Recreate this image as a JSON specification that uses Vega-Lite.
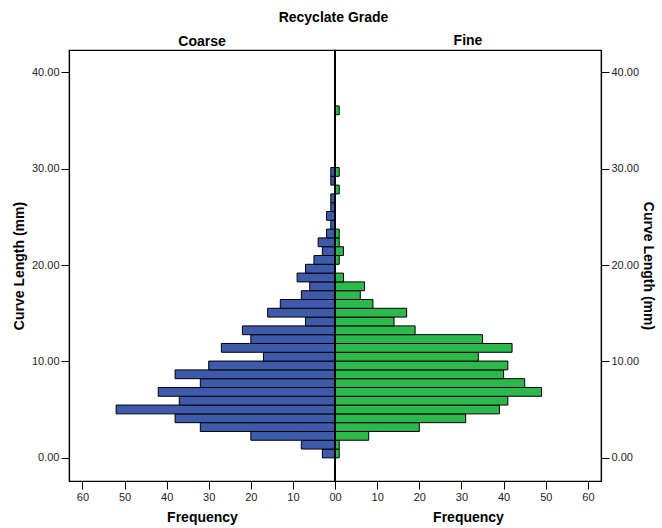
{
  "$schema": "https://vega.github.io/schema/vega-lite/v6.json",
  "padding": {"left": 11, "top": 11, "right": 5, "bottom": 5},
  "title": {
    "text": "Recyclate Grade",
    "fontSize": 14,
    "fontWeight": "bold",
    "font": "Liberation Sans",
    "color": "#000",
    "anchor": "middle",
    "offset": 8
  },
  "datasets": {
    "coarse": [
      {"lo": 0, "hi": 0.9125, "count": 3},
      {"lo": 0.9125, "hi": 1.825, "count": 8},
      {"lo": 1.825, "hi": 2.7375, "count": 20},
      {"lo": 2.7375, "hi": 3.65, "count": 32},
      {"lo": 3.65, "hi": 4.5625, "count": 38},
      {"lo": 4.5625, "hi": 5.475, "count": 52},
      {"lo": 5.475, "hi": 6.3875, "count": 37},
      {"lo": 6.3875, "hi": 7.3, "count": 42},
      {"lo": 7.3, "hi": 8.2125, "count": 32},
      {"lo": 8.2125, "hi": 9.125, "count": 38},
      {"lo": 9.125, "hi": 10.0375, "count": 30},
      {"lo": 10.0375, "hi": 10.95, "count": 17},
      {"lo": 10.95, "hi": 11.8625, "count": 27},
      {"lo": 11.8625, "hi": 12.775, "count": 20},
      {"lo": 12.775, "hi": 13.6875, "count": 22},
      {"lo": 13.6875, "hi": 14.6, "count": 7},
      {"lo": 14.6, "hi": 15.5125, "count": 16},
      {"lo": 15.5125, "hi": 16.425, "count": 13},
      {"lo": 16.425, "hi": 17.3375, "count": 8},
      {"lo": 17.3375, "hi": 18.25, "count": 6},
      {"lo": 18.25, "hi": 19.1625, "count": 9},
      {"lo": 19.1625, "hi": 20.075, "count": 7},
      {"lo": 20.075, "hi": 20.9875, "count": 5},
      {"lo": 20.9875, "hi": 21.9, "count": 3},
      {"lo": 21.9, "hi": 22.8125, "count": 4},
      {"lo": 22.8125, "hi": 23.725, "count": 2},
      {"lo": 23.725, "hi": 24.6375, "count": 1},
      {"lo": 24.6375, "hi": 25.55, "count": 2},
      {"lo": 25.55, "hi": 26.4625, "count": 1},
      {"lo": 26.4625, "hi": 27.375, "count": 1},
      {"lo": 28.2875, "hi": 29.2, "count": 1},
      {"lo": 29.2, "hi": 30.1125, "count": 1}
    ],
    "fine": [
      {"lo": 0, "hi": 0.9125, "count": 1},
      {"lo": 0.9125, "hi": 1.825, "count": 1},
      {"lo": 1.825, "hi": 2.7375, "count": 8},
      {"lo": 2.7375, "hi": 3.65, "count": 20},
      {"lo": 3.65, "hi": 4.5625, "count": 31},
      {"lo": 4.5625, "hi": 5.475, "count": 39},
      {"lo": 5.475, "hi": 6.3875, "count": 41},
      {"lo": 6.3875, "hi": 7.3, "count": 49},
      {"lo": 7.3, "hi": 8.2125, "count": 45},
      {"lo": 8.2125, "hi": 9.125, "count": 40},
      {"lo": 9.125, "hi": 10.0375, "count": 41},
      {"lo": 10.0375, "hi": 10.95, "count": 34},
      {"lo": 10.95, "hi": 11.8625, "count": 42},
      {"lo": 11.8625, "hi": 12.775, "count": 35},
      {"lo": 12.775, "hi": 13.6875, "count": 19},
      {"lo": 13.6875, "hi": 14.6, "count": 14},
      {"lo": 14.6, "hi": 15.5125, "count": 17},
      {"lo": 15.5125, "hi": 16.425, "count": 9},
      {"lo": 16.425, "hi": 17.3375, "count": 6},
      {"lo": 17.3375, "hi": 18.25, "count": 7},
      {"lo": 18.25, "hi": 19.1625, "count": 2},
      {"lo": 20.075, "hi": 20.9875, "count": 1},
      {"lo": 20.9875, "hi": 21.9, "count": 2},
      {"lo": 21.9, "hi": 22.8125, "count": 1},
      {"lo": 22.8125, "hi": 23.725, "count": 1},
      {"lo": 27.375, "hi": 28.2875, "count": 1},
      {"lo": 29.2, "hi": 30.1125, "count": 1},
      {"lo": 35.5875, "hi": 36.5, "count": 1}
    ]
  },
  "hconcat": [
    {
      "width": 266,
      "height": 431,
      "title": {"text": "Coarse", "fontSize": 14, "fontWeight": "bold", "font": "Liberation Sans", "color": "#000", "offset": 1},
      "data": {"name": "coarse"},
      "mark": {"type": "rect", "fill": "#3e5bab", "stroke": "#000", "strokeWidth": 1},
      "encoding": {
        "x": {
          "field": "count",
          "type": "quantitative",
          "scale": {"domain": [0, 63.2], "reverse": true, "nice": false, "zero": false},
          "axis": {"title": "Frequency", "values": [0, 10, 20, 30, 40, 50, 60]}
        },
        "x2": {"datum": 0},
        "y": {
          "field": "lo",
          "type": "quantitative",
          "scale": {"domain": [-2.4, 42.3], "nice": false, "zero": false},
          "axis": {"title": "Curve Length (mm)", "orient": "left", "format": ".2f", "values": [0, 10, 20, 30, 40], "titlePadding": 5}
        },
        "y2": {"field": "hi"}
      }
    },
    {
      "width": 266,
      "height": 431,
      "title": {"text": "Fine", "fontSize": 14, "fontWeight": "bold", "font": "Liberation Sans", "color": "#000", "offset": 1},
      "data": {"name": "fine"},
      "layer": [
        {
          "mark": {"type": "rect", "fill": "#2db84b", "stroke": "#000", "strokeWidth": 1},
          "encoding": {
            "x": {
              "field": "count",
              "type": "quantitative",
              "scale": {"domain": [0, 63.1], "nice": false, "zero": false},
              "axis": {"title": "Frequency", "values": [0, 10, 20, 30, 40, 50, 60]}
            },
            "x2": {"datum": 0},
            "y": {
              "field": "lo",
              "type": "quantitative",
              "scale": {"domain": [-2.4, 42.3], "nice": false, "zero": false},
              "axis": {"title": "Curve Length (mm)", "orient": "right", "format": ".2f", "values": [0, 10, 20, 30, 40], "titlePadding": 2}
            },
            "y2": {"field": "hi"}
          }
        },
        {
          "mark": {"type": "rule", "stroke": "#000", "strokeWidth": 2},
          "encoding": {"x": {"datum": 0}}
        }
      ]
    }
  ],
  "spacing": 0,
  "bounds": "flush",
  "config": {
    "font": "Liberation Sans",
    "view": {"stroke": "#000", "strokeWidth": 1.2},
    "axis": {
      "grid": false,
      "domainColor": "#000",
      "domainWidth": 1.2,
      "tickColor": "#000",
      "tickSize": 8,
      "labelPadding": 2,
      "labelFontSize": 11,
      "labelColor": "#222",
      "labelFont": "Liberation Sans",
      "titleFont": "Liberation Sans",
      "titleFontSize": 14,
      "titleFontWeight": "bold",
      "titleColor": "#000"
    },
    "axisX": {"titlePadding": 8}
  }
}
